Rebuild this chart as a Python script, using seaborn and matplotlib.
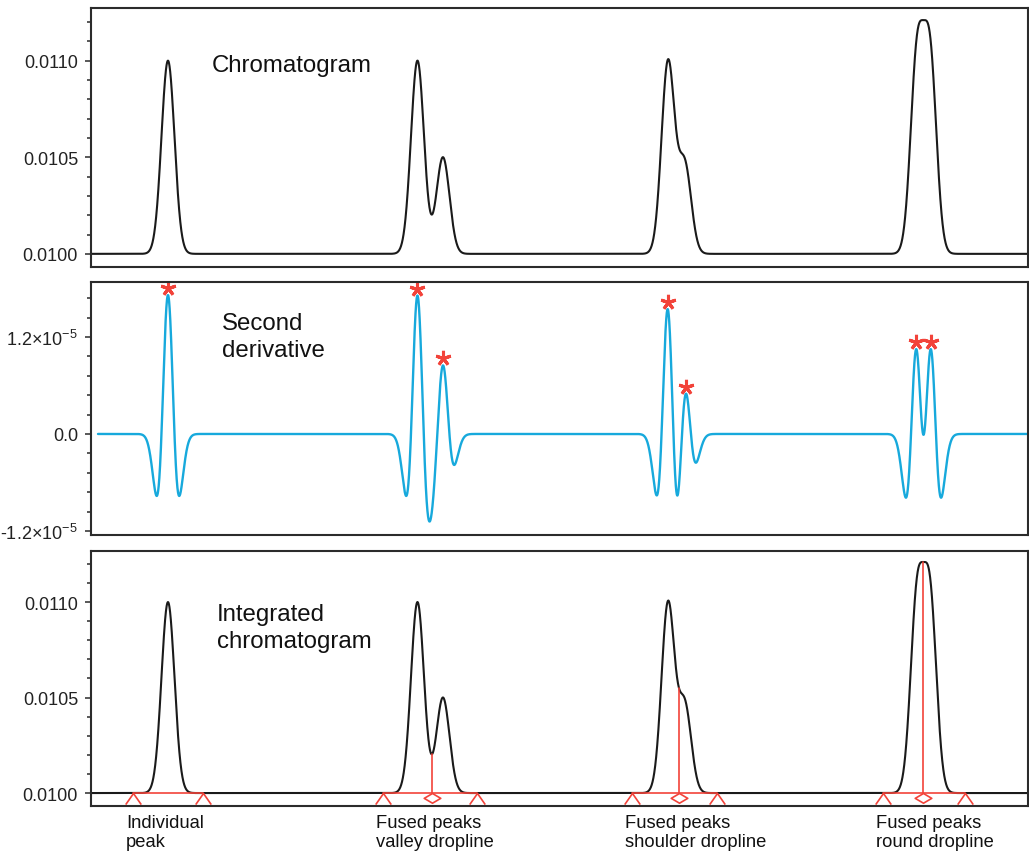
import numpy as np
import pandas as pd
import matplotlib
matplotlib.use("Agg")
import matplotlib.pyplot as plt
import seaborn as sns
from matplotlib.path import Path
from matplotlib.ticker import MultipleLocator, FixedLocator, FixedFormatter, FormatStrFormatter
from matplotlib.transforms import offset_copy

# ---------------- data ----------------
baseline = 0.0100
peak_centers = [90.4, 383.3, 413.2, 677.4, 697.0, 969.7, 985.0]
peak_heights = [0.00100, 0.00100, 0.00050, 0.00099, 0.00046, 0.00100, 0.00100]
peak_widths = [7.63, 7.63, 7.63, 7.63, 7.63, 7.63, 7.63]
time_span = [0.0, 1100.0]
deriv_start = 8.2

group_labels = ["Individual\npeak", "Fused peaks\nvalley dropline",
                "Fused peaks\nshoulder dropline", "Fused peaks\nround dropline"]
group_start = [49.3, 342.8, 635.1, 929.8]
group_end = [131.5, 453.2, 734.9, 1026.1]
group_drop = [None, 400.3, 690.3, 977.3]

chrom_ticks = [0.0100, 0.0105, 0.0110]
deriv_ticks = [-1.2e-5, 0.0, 1.2e-5]
deriv_ticklabels = ["-1.2×10$^{-5}$", "0.0", "1.2×10$^{-5}$"]
panel_titles = ["Chromatogram", "Second\nderivative", "Integrated\nchromatogram"]

# ---------------- build curves ----------------
t = np.linspace(time_span[0], time_span[1], 8801)
signal = np.full_like(t, baseline)
for c, h, w in zip(peak_centers, peak_heights, peak_widths):
    signal += h * np.exp(-(t - c) ** 2 / (2 * w ** 2))
d2 = -np.gradient(np.gradient(signal, t), t)

chrom_df = pd.DataFrame({"t": t, "y": signal})
dmask = t >= deriv_start
deriv_df = pd.DataFrame({"t": t[dmask], "y": d2[dmask]})

# ---------------- style ----------------
sns.set_theme(style="ticks")
plt.rcParams["font.family"] = ["Liberation Sans", "DejaVu Sans"]
plt.rcParams["mathtext.fontset"] = "custom"
plt.rcParams["mathtext.rm"] = "Liberation Sans"
plt.rcParams["mathtext.it"] = "Liberation Sans:italic"
plt.rcParams["axes.unicode_minus"] = False

BLACK = "#1a1a1a"
CYAN = "#17a9dc"
RED = "#f2433a"
SPINE = "#2b2b2b"

fig = plt.figure(figsize=(10.29, 8.54), dpi=100)
left, width = 0.0884, 0.9106
ax1 = fig.add_axes([left, 0.6862, width, 0.3027])
ax2 = fig.add_axes([left, 0.3724, width, 0.2963])
ax3 = fig.add_axes([left, 0.0550, width, 0.2992])

for ax in (ax1, ax2, ax3):
    ax.set_xlim(time_span)
    ax.set_xticks([])
    for s in ax.spines.values():
        s.set_visible(True)
        s.set_linewidth(1.5)
        s.set_color(SPINE)
    ax.tick_params(axis="y", which="major", direction="out", length=4.3, width=1.1,
                   color=SPINE, labelsize=13, pad=5, labelcolor="#222222")
    ax.tick_params(axis="y", which="minor", direction="out", length=2.6, width=1.1, color=SPINE)

# panel 1 and panel 3 chromatograms
for ax in (ax1, ax3):
    sns.lineplot(data=chrom_df, x="t", y="y", ax=ax, color=BLACK, linewidth=1.5,
                 estimator=None, sort=False)
    ax.set_ylim(0.009932, 0.01127)
    ax.yaxis.set_major_locator(FixedLocator(chrom_ticks))
    ax.yaxis.set_major_formatter(FormatStrFormatter("%.4f"))
    ax.yaxis.set_minor_locator(MultipleLocator(0.0001))
    ax.set_xlabel("")
    ax.set_ylabel("")

# panel 2
sns.lineplot(data=deriv_df, x="t", y="y", ax=ax2, color=CYAN, linewidth=1.7,
             estimator=None, sort=False)
ax2.set_ylim(-1.249e-5, 1.88e-5)
ax2.yaxis.set_major_locator(FixedLocator(deriv_ticks))
ax2.yaxis.set_major_formatter(FixedFormatter(deriv_ticklabels))
ax2.yaxis.set_minor_locator(MultipleLocator(0.24e-5))
ax2.set_xlabel("")
ax2.set_ylabel("")

# asterisks on second-derivative maxima
star_tr = offset_copy(ax2.transData, fig=fig, y=5.0, units="points")
for c in peak_centers:
    m = np.abs(t - c) < 5
    i = np.argmax(np.where(m, d2, -np.inf))
    ax2.plot([t[i]], [d2[i]], marker=(5, 2, 0), markersize=11, markeredgewidth=2.2,
             color=RED, transform=star_tr, linestyle="none")

# panel titles
ax1.text(0.129, 0.78, panel_titles[0], transform=ax1.transAxes, fontsize=17.3,
         ha="left", va="center", color="#111111")
ax2.text(0.1398, 0.785, panel_titles[1], transform=ax2.transAxes, fontsize=17.3,
         ha="left", va="center", color="#111111", linespacing=1.28)
ax3.text(0.1345, 0.70, panel_titles[2], transform=ax3.transAxes, fontsize=17.3,
         ha="left", va="center", color="#111111", linespacing=1.28)

# integration marks in panel 3
caret = Path([(-0.7, -1.0), (0.0, 0.0), (0.7, -1.0)],
             [Path.MOVETO, Path.LINETO, Path.LINETO])
diamond = Path([(0.0, 0.0), (0.85, -0.5), (0.0, -1.0), (-0.85, -0.5), (0.0, 0.0)],
               [Path.MOVETO, Path.LINETO, Path.LINETO, Path.LINETO, Path.CLOSEPOLY])
lab_tr = offset_copy(ax3.get_xaxis_transform(), fig=fig, x=-5.0, y=-6.0, units="points")
for lab, s0, s1, dp in zip(group_labels, group_start, group_end, group_drop):
    ax3.plot([s0, s1], [baseline, baseline], color=RED, linewidth=1.2, zorder=3)
    ax3.plot([s0, s1], [baseline, baseline], linestyle="none", marker=caret,
             markersize=16, markerfacecolor="none", markeredgecolor=RED,
             markeredgewidth=1.2, zorder=3, clip_on=False)
    if dp is not None:
        top = np.interp(dp, t, signal)
        ax3.plot([dp, dp], [baseline, top], color=RED, linewidth=1.2, zorder=3)
        ax3.plot([dp], [baseline], linestyle="none", marker=diamond, markersize=14,
                 markerfacecolor="none", markeredgecolor=RED, markeredgewidth=1.2,
                 zorder=3, clip_on=False)
    ax3.text(s0, 0.0, lab, transform=lab_tr, fontsize=13.2, ha="left", va="top",
             linespacing=1.12, color="#111111")

fig.savefig("out.png", dpi=100)
